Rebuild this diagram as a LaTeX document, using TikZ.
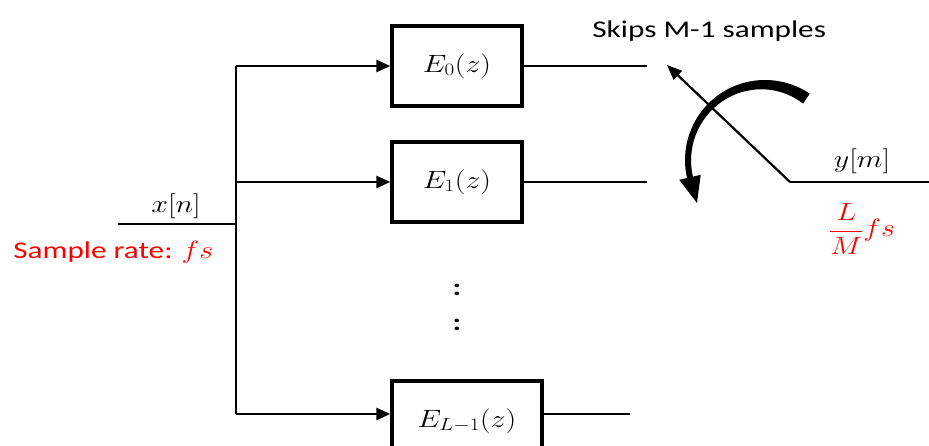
\RequirePackage{fix-cm}
\documentclass[tikz,border=0pt]{standalone}
\usepackage{fontspec}
\setsansfont{Carlito}
\usetikzlibrary{arrows.meta}
\newcommand{\hx}[1]{\scalebox{1.3}[1]{#1}}
\newcommand{\hm}[1]{\scalebox{1.2}[1]{#1}}
\begin{document}
\begin{tikzpicture}[x=1pt,y=1pt, line width=2.8pt,
  blk/.style={draw, line width=3.4pt, minimum width=130pt, minimum height=80pt, inner sep=0pt, font=\fontsize{25}{30}\selectfont},
  lbl/.style={inner sep=0pt, font=\fontsize{25}{30}\selectfont},
  slbl/.style={inner sep=0pt, font=\fontsize{24}{29}\selectfont\sffamily},
  arr/.style={-{Triangle[length=14pt,width=12pt]}}]
\useasboundingbox (0,0) rectangle (929,446);
\fill[white] (0,0) rectangle (929,446);
% blocks
\node[blk] (e0) at (457,380) {\hm{$E_0(z)$}};
\node[blk] (e1) at (457,264) {\hm{$E_1(z)$}};
\node[blk, minimum width=150pt] (eL) at (467,25) {\hm{$E_{L-1}(z)$}};
% coordinates
\coordinate (in) at (118,222);
\coordinate (j) at (236,222);
\coordinate (t) at (236,380);
\coordinate (m) at (236,264);
\coordinate (b) at (236,32);
\coordinate (o0) at (647,380);
\coordinate (o1) at (647,264);
\coordinate (oL) at (630,32);
\coordinate (p) at (790,264);
\coordinate (s) at (667,381);
\coordinate (out) at (935,264);
% input tree
\draw (in) -- (j);
\draw (t) -- (b);
\draw[arr] (t) -- (t -| e0.west);
\draw[arr] (m) -- (m -| e1.west);
\draw[arr] (b) -- (b -| eL.west);
% outputs
\draw (e0.east) -- (o0);
\draw (e1.east) -- (o1);
\draw (b -| eL.east) -- (oL);
% switch
\draw[line width=2.2pt, -{Triangle[length=15pt,width=12pt]}] (p) -- (s);
\draw (p) -- (out);
% curved thick arrow
\fill plot[domain=56:193, samples=50] ({765+80*cos(\x)},{286+80*sin(\x)})
  -- ({765+88*cos(193)},{286+88*sin(193)})
  -- (697,243)
  -- ({765+66*cos(193)},{286+66*sin(193)})
  -- plot[domain=193:56, samples=50] ({765+(74-6*((193-\x)/137)^2)*cos(\x)},{286+(74-6*((193-\x)/137)^2)*sin(\x)})
  -- cycle;
% labels
\node[lbl] (xn) at (176,240) {\hm{$x[n]$}};
\node[lbl] (ym) at (862,285) {\hm{$y[m]$}};
\node[slbl, anchor=base west, text=red] (sr) at (12,187) {\hx{Sample rate:}\hspace{9pt}\fontsize{25}{30}\selectfont\hm{$fs$}};
\node[lbl, anchor=base, text=red] (rate) at (862,209) {\hm{$\displaystyle\frac{L}{M}fs$}};
\node[slbl, anchor=base west] (skip) at (591,408) {\hx{Skips M-1 samples}};
\node[slbl] (d1) at (457,156) {\hx{\textbf{:}}};
\node[slbl] (d2) at (457,121) {\hx{\textbf{:}}};
\end{tikzpicture}
\end{document}
